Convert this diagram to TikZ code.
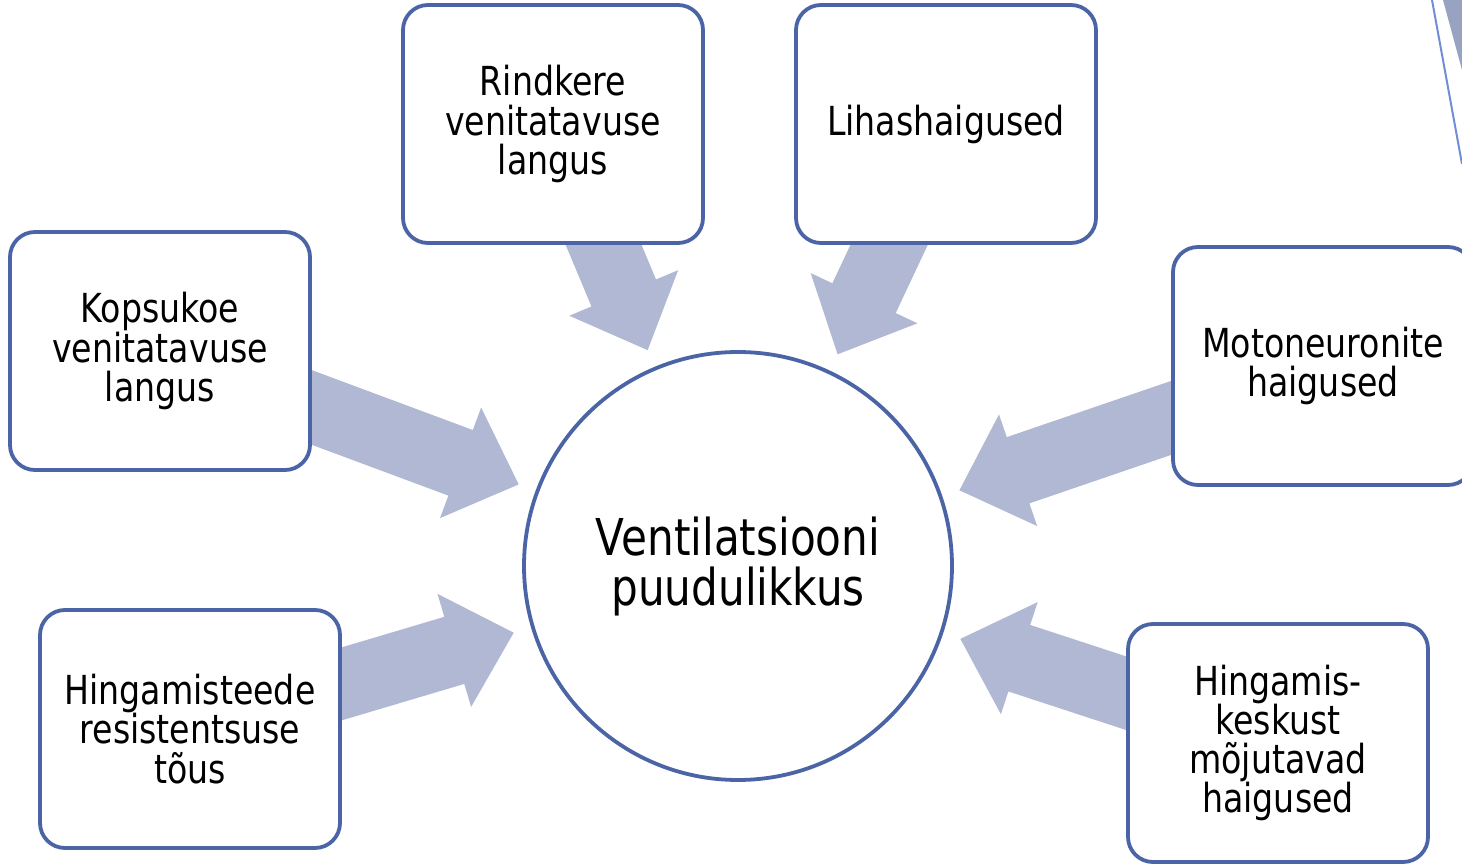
\documentclass[tikz,border=0pt]{standalone}
\usepackage{fontspec}
\setmainfont{DejaVu Sans}[FakeStretch=0.83]
\usetikzlibrary{positioning, calc, backgrounds}
\definecolor{raamsinine}{HTML}{4A64A6}
\definecolor{noolhall}{HTML}{B0B8D4}
\definecolor{joonsinine}{HTML}{6F8ED6}
\definecolor{kolmnurk}{HTML}{98A3C2}
% ploknool kasti keskelt ringi poole
\newcommand{\plokknool}[1]{%
\coordinate (#1_ots) at ($(vp_c.center)!117pt!(#1.center)$);
\coordinate (#1_alus) at ($(#1_ots)!31pt!(#1.center)$);
\fill[nool] ($(#1.center)!17.5pt!90:(#1_ots)$) -- ($(#1_alus)!17.5pt!90:(#1_ots)$) -- ($(#1_alus)!29.5pt!90:(#1_ots)$) -- (#1_ots) -- ($(#1_alus)!29.5pt!-90:(#1_ots)$) -- ($(#1_alus)!17.5pt!-90:(#1_ots)$) -- ($(#1.center)!17.5pt!-90:(#1_ots)$) -- cycle;}

\begin{document}
\begin{tikzpicture}[x=0.5pt,y=-0.5pt,
  kast/.style={draw=raamsinine,line width=1.9pt,fill=white,rounded corners=12.5pt,minimum width=150pt,minimum height=119pt,align=center,font=\fontsize{20}{19.6}\selectfont},
  ring/.style={circle,draw=raamsinine,line width=1.9pt,fill=white,minimum size=214pt,align=center,font=\fontsize{25.4}{25}\selectfont},
  nool/.style={fill=noolhall}]
\useasboundingbox (0,0) rectangle (1462,865);
% kaunistus paremal ylal
\fill[kolmnurk] (1443,0) -- (1462,0) -- (1462,70) -- cycle;
\draw[joonsinine,line width=1pt] (1432,0) -- (1462,164);
% keskmine ring ja kastid
\node[ring](vp_c) at (738,566) {Ventilatsiooni\\puudulikkus};
\node[kast](vp_kops) at (160,351) {Kopsukoe\\venitatavuse\\langus};
\node[kast](vp_rind) at (553,124) {Rindkere\\venitatavuse\\langus};
\node[kast](vp_lihas) at (946,124) {Lihashaigused};
\node[kast](vp_moto) at (1323,366) {Motoneuronite\\haigused};
\node[kast](vp_hteed) at (190,729) {Hingamisteede\\resistentsuse\\tõus};
\node[kast](vp_hkesk) at (1278,743) {Hingamis-\\keskust\\mõjutavad\\haigused};
% nooled taustal
\begin{scope}[on background layer]
\plokknool{vp_kops}
\plokknool{vp_rind}
\plokknool{vp_lihas}
\plokknool{vp_moto}
\plokknool{vp_hteed}
\plokknool{vp_hkesk}
\end{scope}
\end{tikzpicture}
\end{document}
